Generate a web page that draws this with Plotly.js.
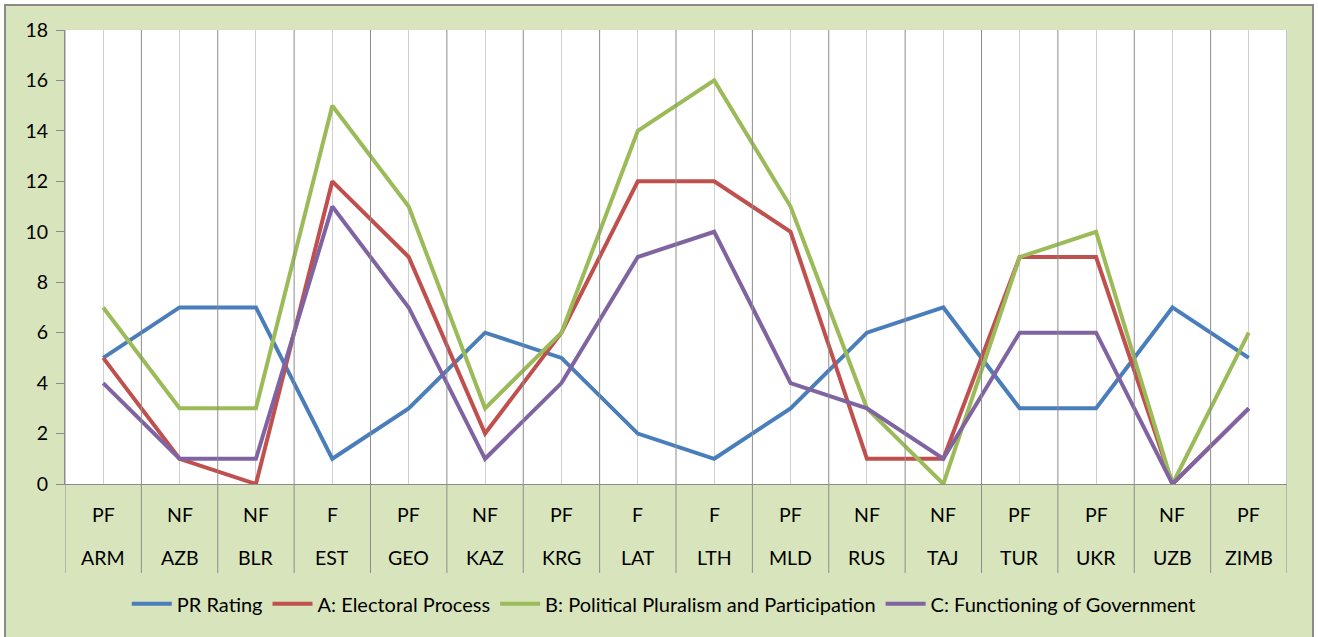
<!DOCTYPE html>
<html>
<head>
<meta charset="utf-8">
<script src="https://cdn.plot.ly/plotly-3.0.1.min.js"></script>
<style>
html,body{margin:0;padding:0;background:#ffffff;overflow:hidden;}
#frame{position:absolute;left:4px;top:4px;width:1306px;height:640px;border:2px solid #8a8a8a;background:#d8e4bc;}
#chart{width:1306px;height:631px;}
</style>
</head>
<body>
<div id="frame"><div id="chart"></div></div>
<script>
const countries = ["ARM","AZB","BLR","EST","GEO","KAZ","KRG","LAT","LTH","MLD","RUS","TAJ","TUR","UKR","UZB","ZIMB"];
const status = ["PF","NF","NF","F","PF","NF","PF","F","F","PF","NF","NF","PF","PF","NF","PF"];
const prRating = [5,7,7,1,3,6,5,2,1,3,6,7,3,3,7,5];
const electoral = [5,1,0,12,9,2,6,12,12,10,1,1,9,9,0,3];
const pluralism = [7,3,3,15,11,3,6,14,16,11,3,0,9,10,0,6];
const government = [4,1,1,11,7,1,4,9,10,4,3,1,6,6,0,3];
const seriesNames = ["PR Rating","A: Electoral Process","B: Political Pluralism and Participation","C: Functioning of Government"];
const seriesColors = ["#4a7ebb","#c0504d","#9bbb59","#8064a2"];
const yTicks = [0,2,4,6,8,10,12,14,16,18];

const FONT = "Lato, 'Open Sans', sans-serif";
const xIdx = countries.map((c,i)=>i);
const data = [prRating, electoral, pluralism, government].map((vals,k)=>({
  type:"scatter", mode:"lines", x:xIdx, y:vals, name:seriesNames[k],
  line:{color:seriesColors[k], width:4}, hoverinfo:"skip"
}));

const annotations = [];
countries.forEach((c,i)=>{
  annotations.push({xref:"x",yref:"paper",x:i,y:0,yanchor:"middle",yshift:-30,text:status[i],showarrow:false,font:{family:FONT,size:19.5,color:"#000"}});
  annotations.push({xref:"x",yref:"paper",x:i,y:0,yanchor:"middle",yshift:-73,text:c,showarrow:false,font:{family:FONT,size:19.5,color:"#000"}});
});
const shapes = [];
for(let i=0;i<=countries.length;i++){
  shapes.push({type:"line",xref:"x",yref:"paper",x0:i-0.5,x1:i-0.5,y0:-0.196,y1:1,line:{color:"#8c8c8c",width:1}});
}

const layout = {
  width:1306, height:631,
  margin:{l:59,r:25,t:24,b:153},
  paper_bgcolor:"#d8e4bc", plot_bgcolor:"#ffffff",
  font:{family:FONT,size:19,color:"#000"},
  showlegend:true,
  legend:{orientation:"h",x:0.49,xanchor:"center",y:-0.264,yanchor:"middle",font:{family:FONT,size:20,color:"#000"},bgcolor:"rgba(0,0,0,0)",itemwidth:40},
  xaxis:{range:[-0.5,countries.length-0.5],tickvals:xIdx,showticklabels:false,ticks:"",showgrid:true,gridcolor:"#cfcfcf",gridwidth:1,zeroline:false,showline:true,linecolor:"#8c8c8c",linewidth:1,fixedrange:true},
  yaxis:{range:[0,18],tickvals:yTicks,ticks:"outside",ticklen:8,tickcolor:"#8c8c8c",showgrid:false,zeroline:false,showline:true,linecolor:"#8c8c8c",linewidth:1,tickfont:{family:FONT,size:19.5,color:"#000"},ticklabelstandoff:4,fixedrange:true},
  annotations:annotations,
  shapes:shapes
};
Plotly.newPlot("chart",data,layout,{displayModeBar:false,staticPlot:true});
</script>
</body>
</html>
